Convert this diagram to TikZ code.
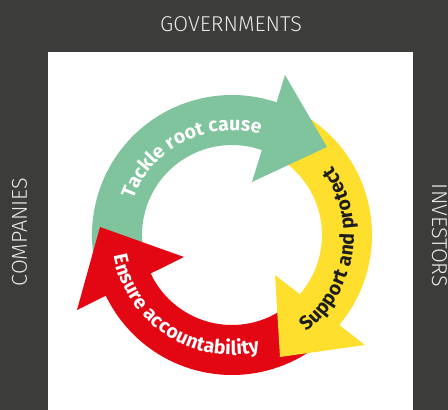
\documentclass[tikz,border=0pt]{standalone}
\usepackage{fontspec}
\setmainfont{Fira Sans}
\newfontfamily\lightfont{Fira Sans Light}
\usetikzlibrary{decorations.text}
\definecolor{frame}{HTML}{3C3C3B}
\definecolor{cgreen}{HTML}{80C49D}
\definecolor{cyellow}{HTML}{FFDF2D}
\definecolor{cred}{HTML}{E30613}
\definecolor{ctxt}{HTML}{1D1D1B}
\definecolor{clabel}{HTML}{E8E8E8}
\newcommand\arcfont{\fontsize{19.5}{19.5}\selectfont\bfseries}
\begin{document}
\begin{tikzpicture}[x=1pt,y=1pt,
  lbl/.style={font=\lightfont\fontsize{21.5}{21.5}\selectfont, text=clabel, inner sep=0pt},
  arctext/.style={decorate,decoration={text along path,text align=center,text={#1}}},
  arcfit/.style={decorate,decoration={text along path,text align={fit to path},text={#1}}}]
\fill[frame] (-232,-175) rectangle (216,235);
\useasboundingbox (-232,-175) rectangle (216,235);
\fill[white] (-184,-175) rectangle (181,183);
% yellow body
\fill[cyellow] (68:140pt) arc[start angle=68,end angle=-43,radius=140pt] -- (-43:90pt) arc[start angle=-43,end angle=68,radius=90pt] -- cycle;
% green body + head
\fill[cgreen] (208:140pt) arc[start angle=208,end angle=68,radius=140pt] -- (68:90pt) arc[start angle=68,end angle=208,radius=90pt] -- cycle;
\fill[cgreen] (53,160) -- (95,88) -- (20,53) -- cycle;
% red body + head
\fill[cred] (312:140pt) arc[start angle=312,end angle=203,radius=140pt] -- (203:90pt) arc[start angle=203,end angle=312,radius=90pt] -- cycle;
\fill[cred] (-132,8) -- (-48,-22) -- (-155,-75) -- cycle;
% yellow head on top
\fill[cyellow] (133,-110) -- (48,-122) -- (43,-40) -- cycle;
% texts
\path[arctext={|\arcfont\color{white}|Tackle root cause}] (167:104.5pt) arc[start angle=167,end angle=67.6,radius=104.5pt];
\path[arcfit={|\arcfont\color{ctxt}|Support and protect}] (-52.5:122pt) arc[start angle=-52.5,end angle=34.5,radius=122pt];
\path[arcfit={|\arcfont\color{white}|Ensure accountability}] (190:120pt) arc[start angle=190,end angle=283.5,radius=120pt];
% frame labels
\node[lbl] (gov) at (-1,210.5) {GOVERNMENTS};
\node[lbl,rotate=90] (comp) at (-212.5,3) {COMPANIES};
\node[lbl,rotate=-90] (inv) at (207.5,-0.5) {INVESTORS};
\end{tikzpicture}
\end{document}
